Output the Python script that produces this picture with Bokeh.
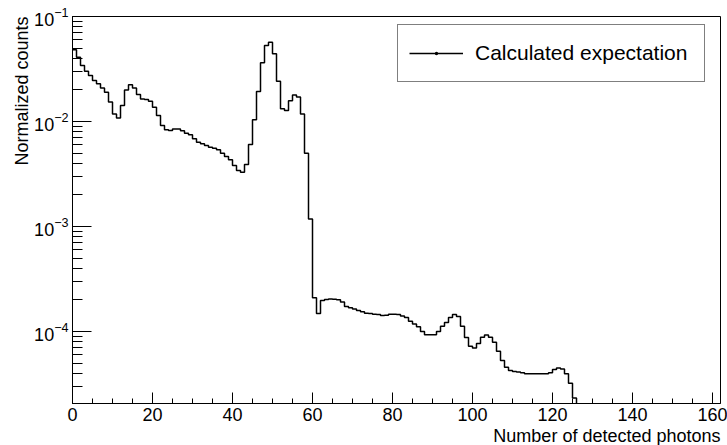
import numpy as np
from bokeh.plotting import figure
from bokeh.models import (Legend, LegendItem, Title, SingleIntervalTicker, LogTicker,
                          Range1d)
from bokeh.embed import file_html
from bokeh.resources import INLINE

# ---- data: histogram of normalized counts, unit bins starting at 0 ----
bin_width = 1
counts = [
    0.0482, 0.0410, 0.0341, 0.0301, 0.0274, 0.0246, 0.0229, 0.0209, 0.0190, 0.0153,
    0.0118, 0.0108, 0.0142, 0.0200, 0.0224, 0.0209, 0.0181, 0.0164, 0.0162, 0.0156,
    0.0137, 0.0114, 0.00916, 0.00834, 0.00821, 0.00850, 0.00850, 0.00815, 0.00774, 0.00747,
    0.00684, 0.00635, 0.00613, 0.00591, 0.00569, 0.00557, 0.00537, 0.00499, 0.00464, 0.00432,
    0.00381, 0.00341, 0.00329, 0.00389, 0.00605, 0.0104, 0.0193, 0.0362, 0.0530, 0.0569,
    0.0441, 0.0242, 0.0132, 0.0127, 0.0158, 0.0179, 0.0171, 0.0118, 0.00499, 0.00118,
    0.000209, 0.000148, 0.000197, 0.000202, 0.000204, 0.000203, 0.000200, 0.000191, 0.000173, 0.000168,
    0.000164, 0.000158, 0.000154, 0.000149, 0.000148, 0.000146, 0.000145, 0.000142, 0.000143, 0.000146,
    0.000146, 0.000145, 0.000140, 0.000136, 0.000125, 0.000118, 0.000111, 0.000100, 0.0000932, 0.0000932,
    0.0000932, 0.000100, 0.000112, 0.000122, 0.000136, 0.000145, 0.000139, 0.000112, 0.0000875, 0.0000725,
    0.0000697, 0.0000770, 0.0000883, 0.0000923, 0.0000883, 0.0000791, 0.0000649, 0.0000529, 0.0000457, 0.0000425,
    0.0000416, 0.0000410, 0.0000405, 0.0000395, 0.0000395, 0.0000395, 0.0000395, 0.0000395, 0.0000395, 0.0000405,
    0.0000435, 0.0000449, 0.0000440, 0.0000395, 0.0000322, 0.0000232,
]
x_min, x_max = 0, 162
y_min, y_max = 2.06e-5, 0.1
x_title = "Number of detected photons"
y_title = "Normalized counts"
legend_label = "Calculated expectation"

FONT = "Liberation Sans"

edges = list(np.arange(len(counts) + 1) * bin_width)
step_y = counts + [y_min]

p = figure(width=727, height=445, output_backend="svg", toolbar_location=None,
           x_range=Range1d(x_min, x_max), y_range=Range1d(y_min, y_max),
           y_axis_type="log",
           min_border_left=72, min_border_right=7, min_border_top=16, min_border_bottom=42)
p.background_fill_color = "white"
p.border_fill_color = "white"
p.outline_line_color = "black"
p.outline_line_width = 1
p.xgrid.visible = False
p.ygrid.visible = False

hist = p.step(x=edges, y=step_y, mode="after", line_color="black", line_width=1.5)
dot = p.scatter(x=[np.nan], y=[np.nan], marker="dot", size=3,
                fill_color="black", line_color="black")

# axes
p.xaxis.ticker = SingleIntervalTicker(interval=20, num_minor_ticks=4)
p.yaxis.ticker = LogTicker(desired_num_ticks=5, num_minor_ticks=10)
for ax in (p.xaxis[0], p.yaxis[0]):
    ax.axis_line_color = "black"
    ax.axis_line_width = 1
    ax.major_tick_line_color = "black"
    ax.minor_tick_line_color = "black"
    ax.major_tick_out = 0
    ax.minor_tick_out = 0
    ax.major_label_text_font = FONT
    ax.major_label_text_font_size = "18px"
    ax.major_label_text_color = "black"
    ax.major_label_standoff = 4
p.xaxis.major_tick_in = 11
p.xaxis.minor_tick_in = 5
p.yaxis.major_tick_in = 19
p.yaxis.minor_tick_in = 10

# axis titles (ROOT style: aligned to the axis ends)
p.add_layout(Title(text=x_title, align="right", text_font=FONT, text_font_size="18px",
                   text_font_style="normal", text_color="black", standoff=0, offset=0), "below")
p.add_layout(Title(text=y_title, align="right", text_font=FONT, text_font_size="18px",
                   text_font_style="normal", text_color="black", standoff=0, offset=0), "left")

legend = Legend(items=[LegendItem(label=legend_label, renderers=[hist, dot])],
                location=(325, 321), margin=0, padding=11, spacing=0,
                glyph_width=54, glyph_height=34, label_height=34, label_width=218,
                label_standoff=12, label_text_font=FONT, label_text_font_size="21px",
                label_text_color="black", border_line_color="black", border_line_width=1,
                background_fill_color="white", background_fill_alpha=1)
p.add_layout(legend, "center")

open("out.html", "w").write(file_html(p, INLINE))
